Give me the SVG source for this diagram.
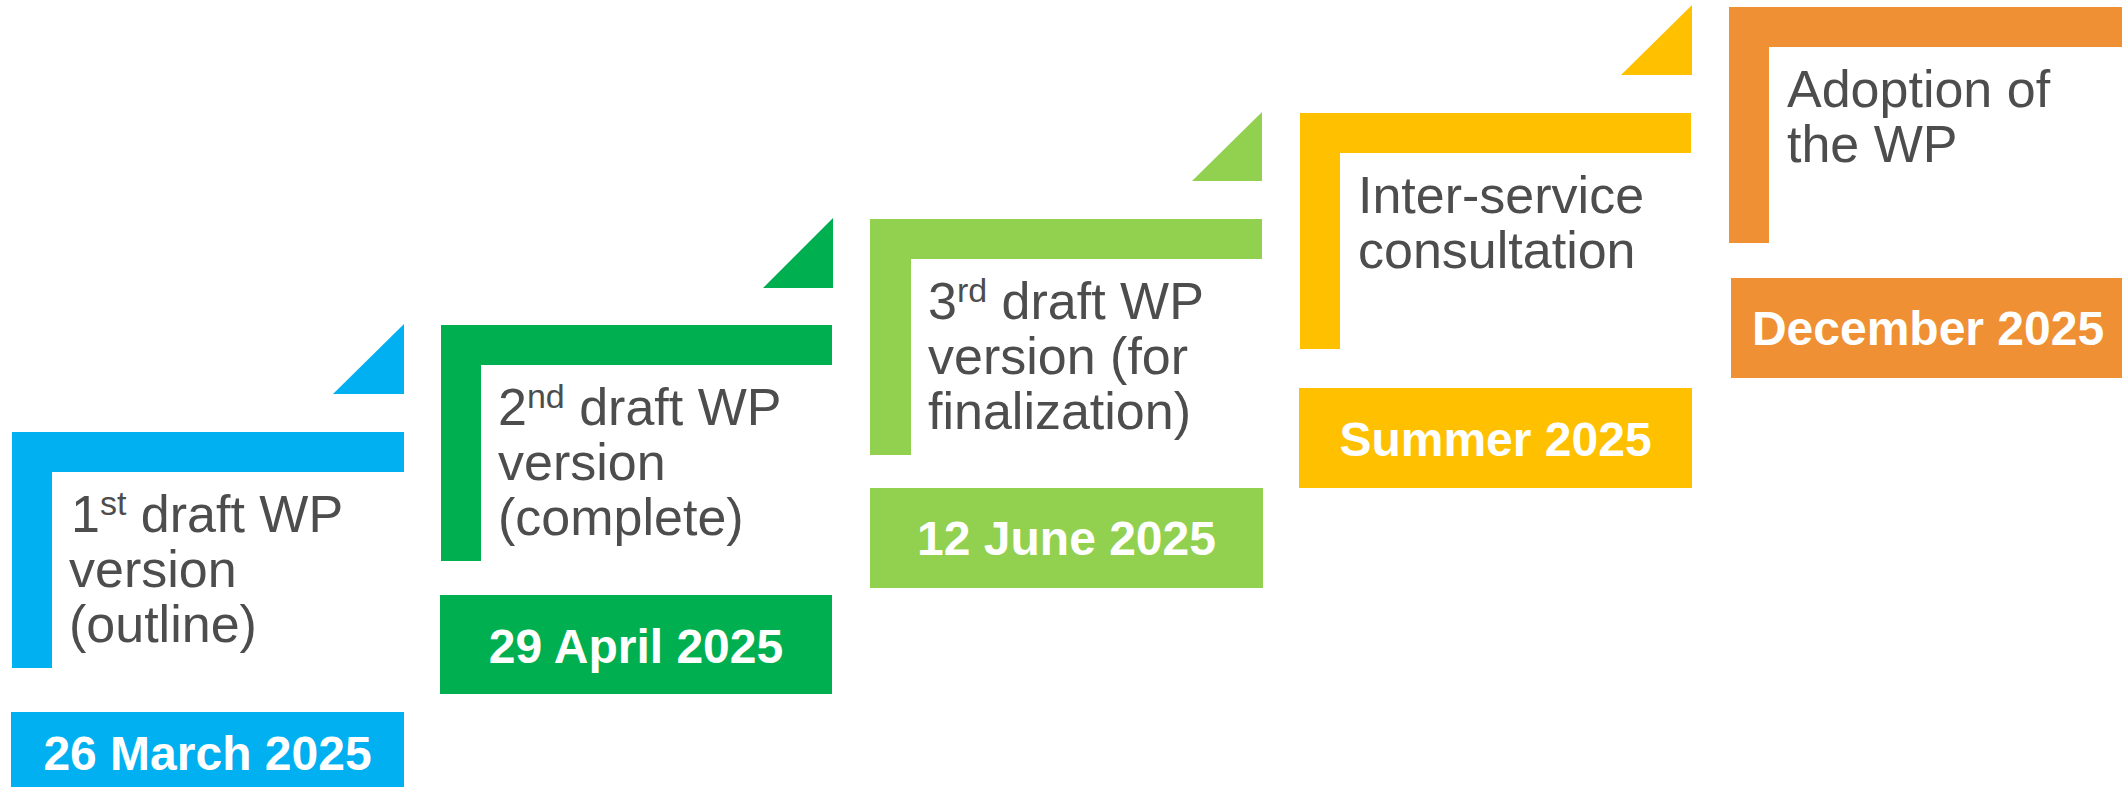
<svg xmlns="http://www.w3.org/2000/svg" width="2122" height="787" viewBox="0 0 2122 787">
<style>
.lbl{font-family:"Liberation Sans",Arial,sans-serif;font-size:52px;fill:#4D4D4D}
.sup{font-size:34px}
.date{font-family:"Liberation Sans",Arial,sans-serif;font-size:48px;font-weight:bold;fill:#FFFFFF;text-anchor:middle}
.blue{fill:#00B0F0}
.green{fill:#00B050}
.lime{fill:#92D050}
.yellow{fill:#FFC000}
.orange{fill:#EE9033}
</style>
<rect width="2122" height="787" fill="#FFFFFF"/>
<g id="step1" class="blue">
<polygon points="333,394 404,324 404,394"/>
<path d="M12,432 H404 V472 H52 V668 H12 Z"/>
<rect x="11" y="712" width="393" height="75"/>
<text class="lbl" x="71" y="532">1<tspan class="sup" dy="-17">st</tspan><tspan dy="17"> draft WP</tspan></text>
<text class="lbl" x="69" y="587">version</text>
<text class="lbl" x="69" y="642">(outline)</text>
<text class="date" x="207.5" y="770">26 March 2025</text>
</g>
<g id="step2" class="green">
<polygon points="763,288 833,218 833,288"/>
<path d="M441,325 H832 V365 H481 V561 H441 Z"/>
<rect x="440" y="595" width="392" height="99"/>
<text class="lbl" x="498" y="425">2<tspan class="sup" dy="-17">nd</tspan><tspan dy="17"> draft WP</tspan></text>
<text class="lbl" x="498" y="480">version</text>
<text class="lbl" x="498" y="535">(complete)</text>
<text class="date" x="636" y="663">29 April 2025</text>
</g>
<g id="step3" class="lime">
<polygon points="1192,181 1262,112 1262,181"/>
<path d="M870,219 H1262 V259 H911 V455 H870 Z"/>
<rect x="870" y="488" width="393" height="100"/>
<text class="lbl" x="928" y="319">3<tspan class="sup" dy="-17">rd</tspan><tspan dy="17"> draft WP</tspan></text>
<text class="lbl" x="928" y="374">version (for</text>
<text class="lbl" x="928" y="429">finalization)</text>
<text class="date" x="1066.5" y="555">12 June 2025</text>
</g>
<g id="step4" class="yellow">
<polygon points="1621,75 1692,5 1692,75"/>
<path d="M1300,113 H1691 V153 H1340 V349 H1300 Z"/>
<rect x="1299" y="388" width="393" height="100"/>
<text class="lbl" x="1358" y="213">Inter-service</text>
<text class="lbl" x="1358" y="268">consultation</text>
<text class="date" x="1495.5" y="456">Summer 2025</text>
</g>
<g id="step5" class="orange">
<path d="M1729,7 H2122 V47 H1769 V243 H1729 Z"/>
<rect x="1731" y="278" width="391" height="100"/>
<text class="lbl" x="1787" y="107">Adoption of</text>
<text class="lbl" x="1787" y="162">the WP</text>
<text class="date" x="1928" y="345">December 2025</text>
</g>
<g id="connectors"></g>
</svg>
